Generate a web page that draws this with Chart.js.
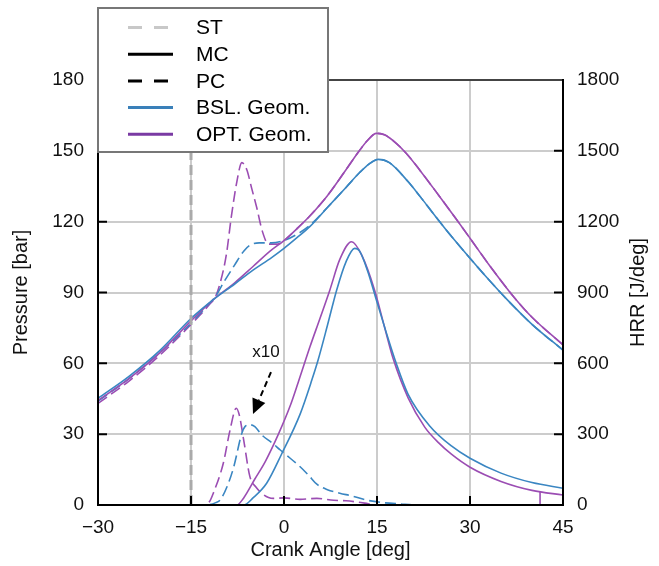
<!DOCTYPE html>
<html>
<head>
<meta charset="utf-8">
<script src="https://cdn.jsdelivr.net/npm/chart.js@4.4.0/dist/chart.umd.min.js"></script>
<style>
  html, body { margin: 0; padding: 0; background: #fff; }
</style>
</head>
<body>
<canvas id="c" width="659" height="566"></canvas>
<script>
// ---- values ----
const xTicks = [-30, -15, 0, 15, 30, 45];
const pressTicks = [0, 30, 60, 90, 120, 150, 180];
const hrrTicks = [0, 300, 600, 900, 1200, 1500, 1800];

// start of injection (vertical marker)
const stAngle = [-15, -15];
const stValue = [0, 180];

// cylinder pressure [bar]
const bslMcPAngle = [-30, -25, -20, -15, -11.4, -8, -5, -2, 0, 2, 4.2, 7, 10, 12.2, 13.8, 15.2, 17, 20, 22, 24.5, 27, 30, 33, 35.8, 40, 45];
const bslMcP = [45.2, 54.5, 65.5, 79, 87, 93.5, 99.5, 104.8, 108.7, 113, 118, 126, 134.5, 140.8, 144.6, 146.4, 145, 137, 130.5, 122, 113.8, 104.5, 95.5, 87.5, 76.5, 65.6];

const optMcPAngle = [-30, -25, -20, -15, -11.4, -8, -5, -2.25, 0, 2, 4.2, 7, 10, 12, 13.5, 14.9, 16.2, 17.5, 19.7, 22, 25, 27.8, 30, 33, 37.1, 40, 45];
const optMcP = [44.3, 53.5, 64.5, 78, 87, 94, 101, 107.5, 112, 116.8, 122.5, 131, 142, 149.5, 154.5, 157.4, 156.8, 154.5, 149, 141.5, 131, 121, 113, 102, 88, 79.5, 67.8];

const bslPcPAngle = [-30, -25, -20, -15, -12, -11, -9.8, -8, -6.5, -5.5, -4, -2, 0, 2, 4.2, 7, 10, 12.2, 13.8, 15.2, 17, 20, 22, 24.5, 27, 30, 33, 35.8, 40, 45];
const bslPcP = [44, 53.5, 64.5, 77, 85.5, 88.5, 94, 101.5, 107.5, 110, 111, 111, 112, 114.5, 118.5, 126, 134.5, 140.8, 144.6, 146.4, 145, 137, 130.5, 122, 113.8, 104.5, 95.5, 87.5, 76.5, 65.6];

const optPcPAngle = [-30, -25, -20, -15, -12, -11, -10.2, -9.3, -8.5, -7.6, -6.8, -6, -5.2, -4.4, -3.5, -2.5, -1, 0, 2, 4.2, 7, 10, 12, 13.5, 14.9, 16.2, 17.5, 19.7, 22, 25, 27.8, 30, 33, 37.1, 40, 45];
const optPcP = [43, 52.5, 63.5, 76.5, 85, 88.5, 95, 106, 122, 137, 145, 142, 134, 126, 116, 110.5, 110.5, 112, 116.8, 122.5, 131, 142, 149.5, 154.5, 157.4, 156.8, 154.5, 149, 141.5, 131, 121, 113, 102, 88, 79.5, 67.8];

// heat release rate [J/deg] (PC curves shown x10)
const bslMcHAngle = [-30, -6.5, -5, -2.8, -0.4, 2.6, 4.5, 5.5, 7, 8.5, 10, 11.4, 12.2, 13.5, 14.9, 16.5, 18.1, 20, 23.5, 27, 30, 35, 40, 45];
const bslMcH = [0, 0, 30, 92, 215, 385, 530, 614, 760, 911, 1030, 1087, 1075, 990, 868, 730, 600, 470, 335, 250, 198, 135, 95, 71];

const optMcHAngle = [-30, -7.6, -6.5, -4.7, -3, -0.9, 1, 2.3, 4.2, 5.8, 7.4, 9, 10.9, 12.5, 14.6, 16.2, 17.6, 20, 22.7, 25, 27, 30, 35, 40, 45];
const optMcH = [0, 0, 30, 110, 185, 300, 420, 520, 671, 790, 911, 1040, 1115, 1060, 911, 755, 620, 455, 330, 262, 215, 160, 100, 62, 42];

const bslPcHAngle = [-30, -12.5, -11, -10.3, -9, -8.1, -6.8, -6.3, -5.5, -4.7, -3.6, -2, -0.6, 1, 2.6, 4, 5.3, 7, 9, 11, 13.3, 16, 18.6, 22, 45];
const bslPcH = [0, 0, 10, 21, 90, 162, 304, 332, 340, 332, 297, 265, 233, 198, 162, 125, 88, 65, 50, 38, 21, 10, 5, 0, 0];

const optPcHAngle = [-30, -13, -12, -11.4, -9.8, -8.7, -7.7, -7.2, -6.5, -5.5, -4.5, -3.6, -2.5, -1.7, 0, 2.6, 5.3, 8, 10, 13, 15, 45];
const optPcH = [0, 0, 15, 50, 176, 318, 410, 380, 275, 120, 75, 50, 32, 28, 30, 24, 28, 20, 18, 8, 0, 0];

const optDropAngle = [41.3, 41.3];
const optDropH = [0, 55];

// legend
const legendLabels = ['ST', 'MC', 'PC', 'BSL. Geom.', 'OPT. Geom.'];
const legendColors = ['#c8c8c8', '#000000', '#000000', '#3a80b9', '#7a3aa3'];
const legendDashed = [true, false, true, false, false];

const BLUE = '#3a86c2';
const PURPLE = '#9b4db3';
const FONT = '"Liberation Sans", Arial, sans-serif';

function pts(xs, ys) {
    return xs.map((x, i) => ({ x: x, y: ys[i] }));
}

function line(xs, ys, color, dashed, axis) {
    return {
        data: pts(xs, ys),
        borderColor: color,
        borderWidth: 1.6,
        borderDash: dashed ? [11, 5] : [],
        pointRadius: 0,
        cubicInterpolationMode: 'monotone',
        fill: false,
        yAxisID: axis
    };
}

// legend, frame, inward ticks, right title, x10 note
const extras = {
    id: 'extras',
    afterDraw(chart) {
        const ctx = chart.ctx;
        const a = chart.chartArea;
        const xs = chart.scales.x, ys = chart.scales.y;
        ctx.save();

        // inward tick marks
        ctx.strokeStyle = '#000';
        ctx.lineWidth = 2;
        ctx.beginPath();
        pressTicks.slice(1, -1).forEach(v => {
            const y = ys.getPixelForValue(v);
            ctx.moveTo(a.left, y); ctx.lineTo(a.left + 9, y);
            ctx.moveTo(a.right, y); ctx.lineTo(a.right - 9, y);
        });
        xTicks.slice(1, -1).forEach(v => {
            const x = xs.getPixelForValue(v);
            ctx.moveTo(x, a.bottom); ctx.lineTo(x, a.bottom - 9);
        });
        ctx.stroke();

        // frame
        ctx.beginPath();
        ctx.strokeStyle = '#444';
        ctx.moveTo(a.left, a.top); ctx.lineTo(a.right, a.top);
        ctx.stroke();
        ctx.beginPath();
        ctx.strokeStyle = '#000';
        ctx.moveTo(a.left, a.top); ctx.lineTo(a.left, a.bottom); ctx.lineTo(a.right, a.bottom); ctx.lineTo(a.right, a.top - 1);
        ctx.stroke();

        // right axis title, reading bottom to top
        ctx.save();
        ctx.translate(638, (a.top + a.bottom) / 2);
        ctx.rotate(-Math.PI / 2);
        ctx.fillStyle = '#111';
        ctx.font = '20px ' + FONT;
        ctx.textAlign = 'center';
        ctx.textBaseline = 'middle';
        ctx.fillText('HRR [J/deg]', 0, 0);
        ctx.restore();

        // x10 note with dashed arrow
        ctx.fillStyle = '#111';
        ctx.font = '17px ' + FONT;
        ctx.textAlign = 'center';
        ctx.textBaseline = 'middle';
        ctx.fillText('x10', xs.getPixelForValue(-2.9), ys.getPixelForValue(64.8));
        const x0 = xs.getPixelForValue(-2.1), y0 = ys.getPixelForValue(56.3);
        const x1 = xs.getPixelForValue(-5.0), y1 = ys.getPixelForValue(38.5);
        const ang = Math.atan2(y1 - y0, x1 - x0);
        const head = 15;
        ctx.strokeStyle = '#000';
        ctx.lineWidth = 2;
        ctx.setLineDash([6, 4]);
        ctx.beginPath();
        ctx.moveTo(x0, y0);
        ctx.lineTo(x1 - head * Math.cos(ang), y1 - head * Math.sin(ang));
        ctx.stroke();
        ctx.setLineDash([]);
        ctx.beginPath();
        ctx.moveTo(x1, y1);
        ctx.lineTo(x1 - head * Math.cos(ang) + 7 * Math.sin(ang), y1 - head * Math.sin(ang) - 7 * Math.cos(ang));
        ctx.lineTo(x1 - head * Math.cos(ang) - 7 * Math.sin(ang), y1 - head * Math.sin(ang) + 7 * Math.cos(ang));
        ctx.closePath();
        ctx.fillStyle = '#000';
        ctx.fill();

        // legend box
        const bx = 98, by = 8, bw = 230, bh = 144;
        ctx.fillStyle = '#fff';
        ctx.fillRect(bx, by, bw, bh);
        ctx.strokeStyle = '#777';
        ctx.lineWidth = 2;
        ctx.strokeRect(bx, by, bw, bh);
        ctx.font = '21px ' + FONT;
        ctx.textAlign = 'left';
        ctx.textBaseline = 'middle';
        legendLabels.forEach((lab, i) => {
            const y = by + 19.5 + i * 26.7;
            ctx.strokeStyle = legendColors[i];
            ctx.lineWidth = 3;
            ctx.setLineDash(legendDashed[i] ? [14, 12] : []);
            ctx.beginPath();
            ctx.moveTo(128, y); ctx.lineTo(173, y);
            ctx.stroke();
            ctx.setLineDash([]);
            ctx.fillStyle = '#000';
            ctx.fillText(lab, 196, y + 1);
        });
        ctx.restore();
    }
};

const gridColor = (ctx) => {
    const v = ctx.tick.value;
    return (v === -30 || v === 45 || v === 0 && ctx.scale.axis === 'y' || v === 180) ? 'rgba(0,0,0,0)' : '#cccccc';
};

new Chart(document.getElementById('c').getContext('2d'), {
    type: 'line',
    data: {
        datasets: [
            { data: pts(stAngle, stValue), borderColor: '#aaaaaa', borderWidth: 3, borderDash: [10, 5], pointRadius: 0, tension: 0, yAxisID: 'y' },
            line(bslMcPAngle, bslMcP, BLUE, false, 'y'),
            line(optMcPAngle, optMcP, PURPLE, false, 'y'),
            line(bslPcPAngle, bslPcP, BLUE, true, 'y'),
            line(optPcPAngle, optPcP, PURPLE, true, 'y'),
            line(bslMcHAngle, bslMcH, BLUE, false, 'y1'),
            line(optMcHAngle, optMcH, PURPLE, false, 'y1'),
            line(bslPcHAngle, bslPcH, BLUE, true, 'y1'),
            line(optPcHAngle, optPcH, PURPLE, true, 'y1'),
            { data: pts(optDropAngle, optDropH), borderColor: PURPLE, borderWidth: 1.6, pointRadius: 0, tension: 0, yAxisID: 'y1' }
        ]
    },
    options: {
        responsive: false,
        animation: false,
        devicePixelRatio: 1,
        layout: { padding: { top: 80, left: 0, right: 0, bottom: 0 } },
        plugins: { legend: { display: false }, tooltip: { enabled: false } },
        scales: {
            x: {
                type: 'linear', min: -30, max: 45,
                afterFit: s => { s.height = 61; },
                afterBuildTicks: s => { s.ticks = xTicks.map(v => ({ value: v })); },
                ticks: { color: '#111', font: { family: FONT, size: 19 }, padding: 11,
                         callback: v => (v < 0 ? '\u2212' + Math.abs(v) : String(v)) },
                grid: { color: gridColor, lineWidth: 2, drawTicks: false },
                border: { display: false },
                title: { display: true, text: 'Crank Angle [deg]', color: '#111', font: { family: FONT, size: 20 }, padding: { top: 4 } }
            },
            y: {
                position: 'left', min: 0, max: 180,
                afterFit: s => { s.width = 98; },
                afterBuildTicks: s => { s.ticks = pressTicks.map(v => ({ value: v })); },
                ticks: { color: '#111', font: { family: FONT, size: 19 }, padding: 14, callback: v => String(v) },
                grid: { color: gridColor, lineWidth: 2, drawTicks: false },
                border: { display: false },
                title: { display: true, text: 'Pressure [bar]', color: '#111', font: { family: FONT, size: 20 }, padding: { top: 9 } }
            },
            y1: {
                position: 'right', min: 0, max: 1800,
                afterFit: s => { s.width = 96; },
                afterBuildTicks: s => { s.ticks = hrrTicks.map(v => ({ value: v })); },
                ticks: { color: '#111', font: { family: FONT, size: 19 }, padding: 14, callback: v => String(v) },
                grid: { display: false, drawTicks: false },
                border: { display: false }
            }
        }
    },
    plugins: [extras]
});
</script>
</body>
</html>
